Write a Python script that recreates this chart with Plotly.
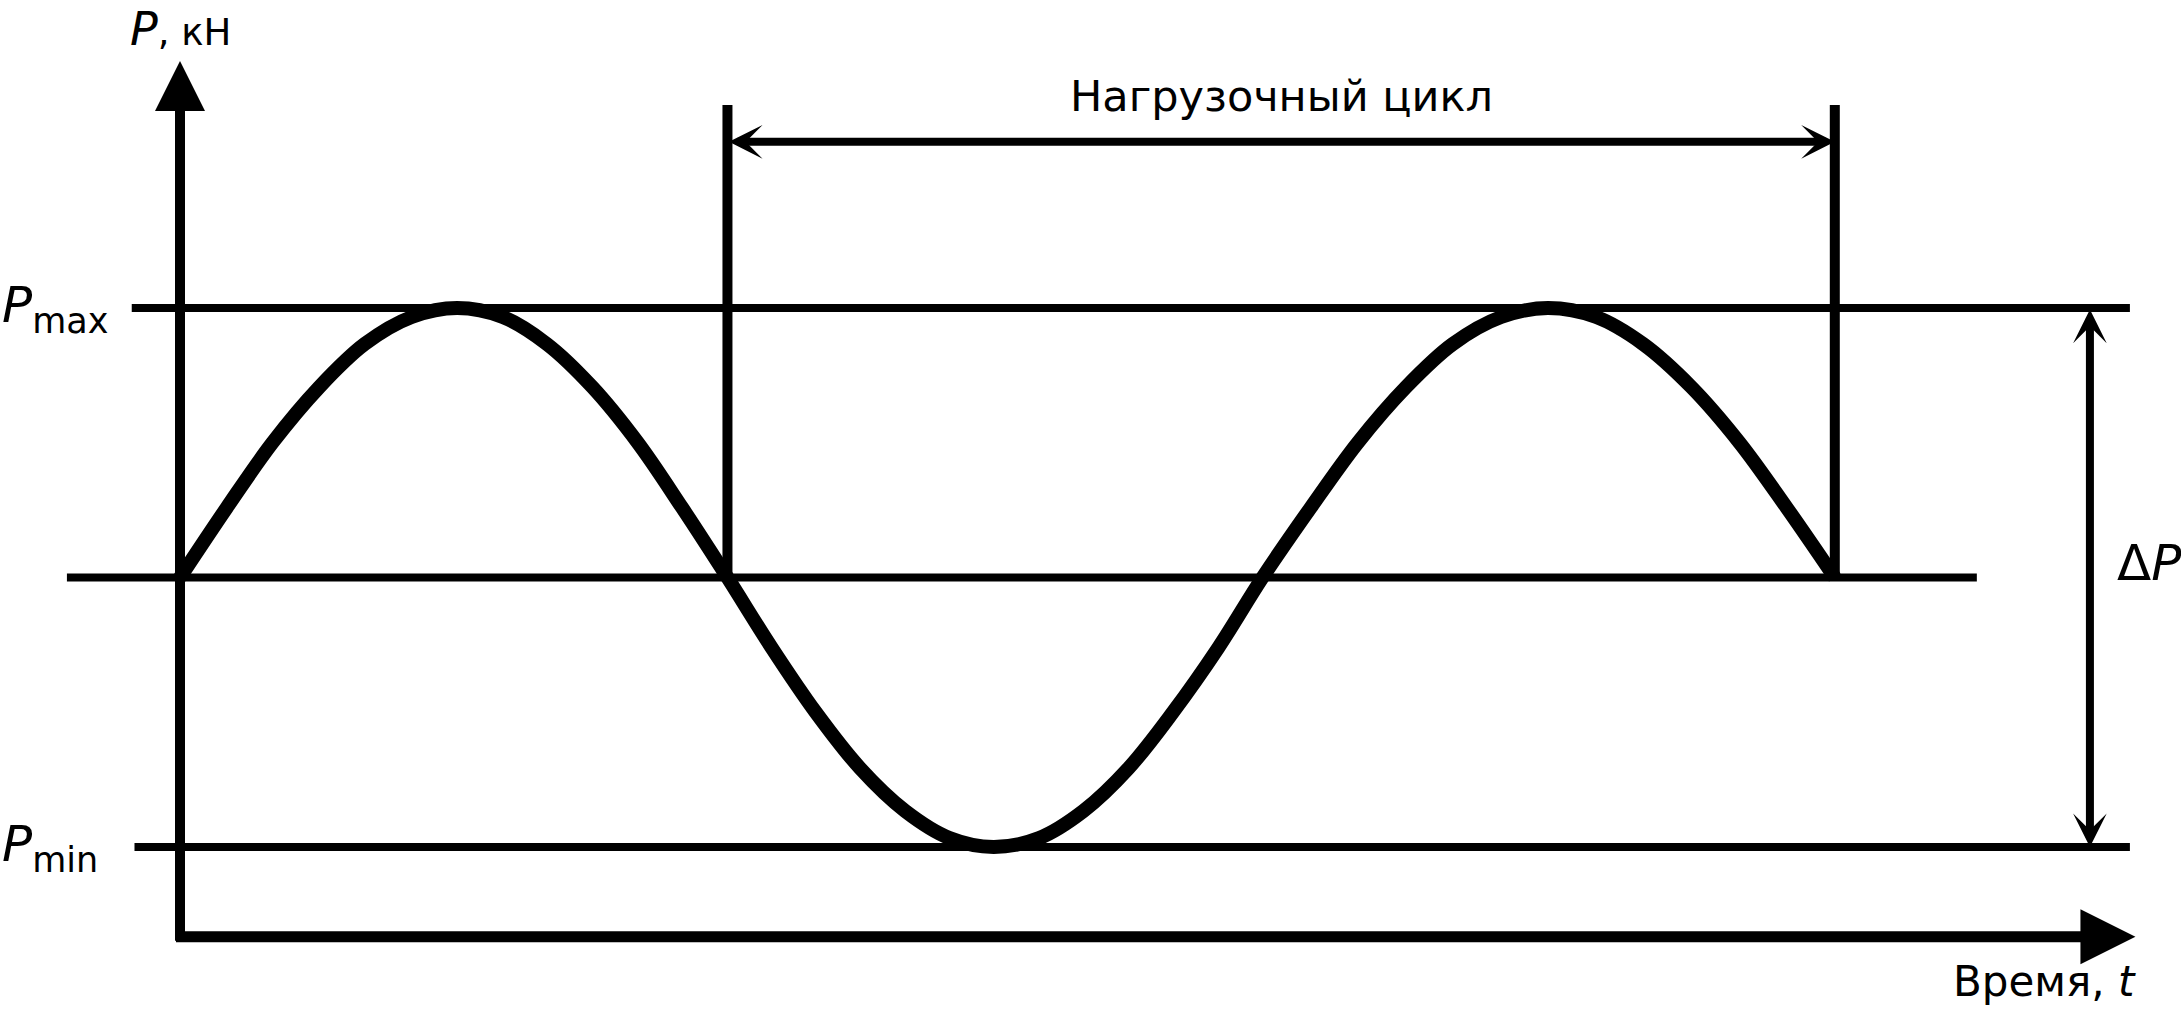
import plotly.graph_objects as go

# ---- data (t: time, arbitrary units; P: load, arbitrary units) ----
P_max = 8.0
P_mean = 5.0
P_min = 2.0

t_curve = [0, 0.34, 0.67, 1.01, 1.34, 1.68, 2.01,
           2.34, 2.66, 2.99, 3.32, 3.64, 3.97,
           4.29, 4.61, 4.93, 5.26, 5.58, 5.90,
           6.23, 6.55, 6.88, 7.20, 7.53, 7.85,
           8.20, 8.54, 8.89, 9.23, 9.58, 9.92,
           10.27, 10.61, 10.96, 11.31, 11.65, 12.0]
P_curve = [5.0, 5.78, 6.5, 7.12, 7.6, 7.9, 8.0,
           7.9, 7.6, 7.12, 6.5, 5.78, 5.0,
           4.22, 3.5, 2.88, 2.4, 2.1, 2.0,
           2.1, 2.4, 2.88, 3.5, 4.22, 5.0,
           5.78, 6.5, 7.12, 7.6, 7.9, 8.0,
           7.9, 7.6, 7.12, 6.5, 5.78, 5.0]

level_names = ["max", "mean", "min"]
level_values = [P_max, P_mean, P_min]
level_t_start = [-0.35, -0.82, -0.33]
level_t_end = [14.14, 13.03, 14.14]

cycle_t = [3.97, 12.0]          # load cycle start / end
cycle_top_P = 10.26
cycle_arrow_P = 9.85
dP_t = 13.85                    # ΔP dimension arrow
axis_t_end = 14.18
axis_P_end = 10.75
axis_P_zero = 1.0

labels = {
    "cycle": "Нагрузочный цикл",
    "yaxis": "<i>P</i><span style='font-size:37px'>, кН</span>",
    "xaxis": "Время, <i>t</i>",
    "pmax": "<i>P</i><sub>max</sub>",
    "pmin": "<i>P</i><sub>min</sub>",
    "dp": "Δ<i>P</i>",
}

FONT = "DejaVu Sans, Liberation Sans, Arial, sans-serif"
BLACK = "#000000"

fig = go.Figure()

# level lines
for name, val, ts, te in zip(level_names, level_values, level_t_start, level_t_end):
    fig.add_trace(go.Scatter(x=[ts, te], y=[val, val], mode="lines",
                             line=dict(color=BLACK, width=8), hoverinfo="skip",
                             showlegend=False, name=name))

# cycle boundary verticals
for tc in cycle_t:
    fig.add_trace(go.Scatter(x=[tc, tc], y=[P_mean, cycle_top_P], mode="lines",
                             line=dict(color=BLACK, width=10), hoverinfo="skip",
                             showlegend=False))

# load curve
fig.add_trace(go.Scatter(x=t_curve, y=P_curve, mode="lines",
                         line=dict(color=BLACK, width=14, shape="spline", smoothing=1),
                         hoverinfo="skip", showlegend=False))

# axes with arrows
fig.add_annotation(x=0, y=axis_P_end, ax=0, ay=axis_P_zero - 0.06,
                   xref="x", yref="y", axref="x", ayref="y", text="",
                   showarrow=True, arrowhead=2, arrowwidth=10, arrowsize=1.0,
                   arrowcolor=BLACK)
fig.add_annotation(x=axis_t_end, y=axis_P_zero, ax=-0.04, ay=axis_P_zero,
                   xref="x", yref="y", axref="x", ayref="y", text="",
                   showarrow=True, arrowhead=2, arrowwidth=11, arrowsize=1.0,
                   arrowcolor=BLACK)

# load cycle double arrow
fig.add_annotation(x=cycle_t[1], y=cycle_arrow_P, ax=cycle_t[0], ay=cycle_arrow_P,
                   xref="x", yref="y", axref="x", ayref="y", text="",
                   showarrow=True, arrowside="end+start", arrowhead=3, startarrowhead=3,
                   arrowwidth=8, arrowsize=0.7, startarrowsize=0.7, arrowcolor=BLACK)

# ΔP double arrow
fig.add_annotation(x=dP_t, y=P_min, ax=dP_t, ay=P_max,
                   xref="x", yref="y", axref="x", ayref="y", text="",
                   showarrow=True, arrowside="end+start", arrowhead=3, startarrowhead=3,
                   arrowwidth=8, arrowsize=0.7, startarrowsize=0.7, arrowcolor=BLACK)

# texts
fig.add_annotation(x=(cycle_t[0] + cycle_t[1]) / 2, y=10.36, xref="x", yref="y",
                   text=labels["cycle"], showarrow=False, xanchor="center", yanchor="middle",
                   font=dict(family=FONT, size=43, color=BLACK))
fig.add_annotation(x=0, y=1.0, xref="x", yref="paper",
                   text=labels["yaxis"], showarrow=False, xanchor="center", yanchor="top",
                   font=dict(family=FONT, size=46, color=BLACK))
fig.add_annotation(x=14.2, y=0.50, xref="x", yref="y",
                   text=labels["xaxis"], showarrow=False, xanchor="right", yanchor="middle",
                   font=dict(family=FONT, size=42, color=BLACK))
fig.add_annotation(x=0, y=P_max, xref="paper", yref="y",
                   text=labels["pmax"], showarrow=False, xanchor="left", yanchor="middle",
                   font=dict(family=FONT, size=50, color=BLACK))
fig.add_annotation(x=0, y=P_min, xref="paper", yref="y",
                   text=labels["pmin"], showarrow=False, xanchor="left", yanchor="middle",
                   font=dict(family=FONT, size=50, color=BLACK))
fig.add_annotation(x=14.03, y=5.16, xref="x", yref="y",
                   text=labels["dp"], showarrow=False, xanchor="left", yanchor="middle",
                   font=dict(family=FONT, size=50, color=BLACK))

fig.update_layout(
    width=2181, height=1015,
    margin=dict(l=0, r=0, t=0, b=0, pad=0),
    paper_bgcolor="white", plot_bgcolor="white",
    xaxis=dict(range=[-1.3053, 14.5105], visible=False, fixedrange=True),
    yaxis=dict(range=[0.130, 11.429], visible=False, fixedrange=True),
    showlegend=False, hovermode=False,
)

fig.write_html("out.html", config={"displayModeBar": False},
               post_script="document.body.style.margin='0';document.body.style.overflow='hidden';")
